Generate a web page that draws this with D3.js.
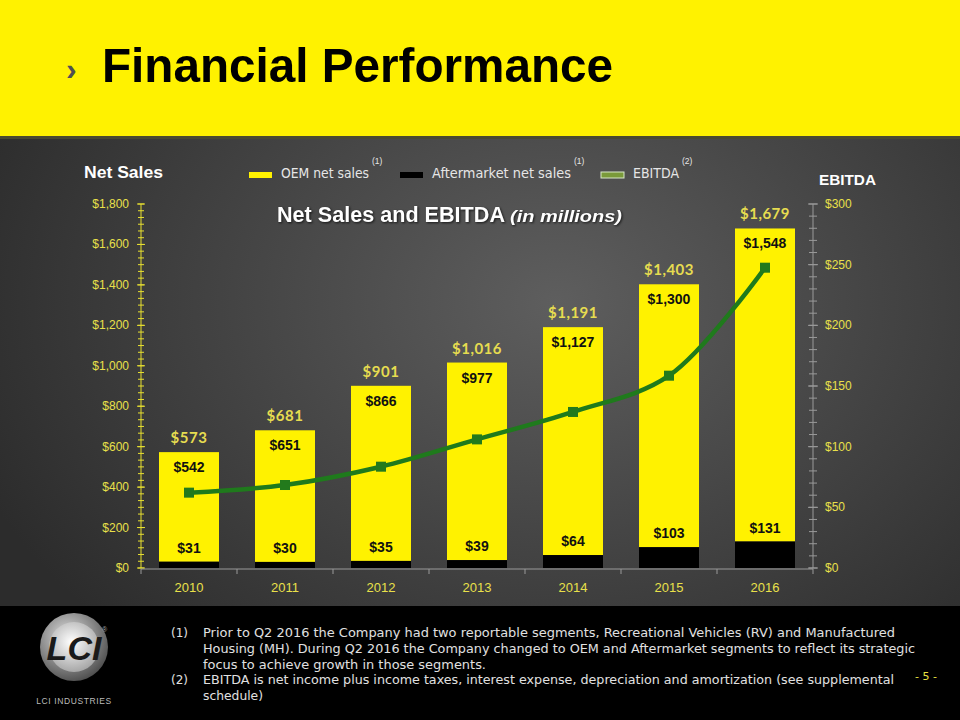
<!DOCTYPE html>
<html>
<head>
<meta charset="utf-8">
<script src="https://cdn.jsdelivr.net/npm/d3@7"></script>
<style>
html,body{margin:0;padding:0;background:#000;}
svg{display:block;}
</style>
</head>
<body>
<svg id="c" width="960" height="720"></svg>
<script>
// ---- data ----
const years = ["2010","2011","2012","2013","2014","2015","2016"];
const oemSales = [542, 651, 866, 977, 1127, 1300, 1548];
const aftermarketSales = [31, 30, 35, 39, 64, 103, 131];
const totalSales = [573, 681, 901, 1016, 1191, 1403, 1679];
const ebitda = [62.1, 68.4, 83.5, 106.0, 128.6, 158.5, 247.5];
const leftTicks = [0, 200, 400, 600, 800, 1000, 1200, 1400, 1600, 1800];
const rightTicks = [0, 50, 100, 150, 200, 250, 300];
const footnoteMarks = ["(1)", "", "", "(2)", ""];
const footnoteLines = [
  "Prior to Q2 2016 the Company had two reportable segments, Recreational Vehicles  (RV) and Manufactured",
  "Housing (MH).  During Q2 2016 the Company changed to OEM and Aftermarket segments to reflect its strategic",
  "focus to achieve growth in those segments.",
  "EBITDA  is net income plus income taxes, interest expense,  depreciation and amortization (see supplemental",
  "schedule)"
];
const footnoteWidths = [692, 712, 283, 691, 60];

const svg = d3.select("#c");
const defs = svg.append("defs");

// background gradient
const bg = defs.append("radialGradient").attr("id","bg")
  .attr("cx","58%").attr("cy","42%").attr("r","65%");
bg.append("stop").attr("offset","0%").attr("stop-color","#5e5e5e");
bg.append("stop").attr("offset","100%").attr("stop-color","#2c2c2c");

svg.append("rect").attr("width",960).attr("height",720).attr("fill","url(#bg)");

// header
svg.append("rect").attr("x",0).attr("y",0).attr("width",960).attr("height",137).attr("fill","#fff200");
svg.append("rect").attr("x",0).attr("y",136).attr("width",960).attr("height",3).attr("fill","#4a4a30");
svg.append("text").attr("x",66).attr("y",80).attr("font-family","Liberation Sans, Arial").attr("font-weight","bold")
  .attr("font-size",32).attr("fill","#505050").text("›");
svg.append("text").attr("x",102).attr("y",82).attr("font-family","Liberation Sans, Arial").attr("font-weight","bold")
  .attr("font-size",49).attr("fill","#000").attr("textLength",511).attr("lengthAdjust","spacingAndGlyphs")
  .text("Financial Performance");

// footer
svg.append("rect").attr("x",0).attr("y",606).attr("width",960).attr("height",114).attr("fill","#000");

// scales
const x = d3.scaleBand().domain(years).range([141,813]).paddingInner(0.375).paddingOuter(0.1875);
const yL = d3.scaleLinear().domain([0,1800]).range([568,204]);
const yR = d3.scaleLinear().domain([0,300]).range([568,204]);

const yellowTxt = "#e9e04a";

// left axis
const gL = svg.append("g").attr("transform","translate(141,0)");
gL.append("line").attr("y1",yL(0)).attr("y2",yL(1800)).attr("stroke","#e8e030").attr("stroke-width",1);
const minorL = d3.range(0, 1800.01, 200/6);
gL.selectAll("line.mn").data(minorL).join("line").attr("class","mn")
  .attr("x1",-3).attr("x2",3).attr("y1",d=>yL(d)).attr("y2",d=>yL(d)).attr("stroke","#e8e030");
gL.selectAll("line.mj").data(leftTicks).join("line").attr("class","mj")
  .attr("x1",-4).attr("x2",4).attr("y1",d=>yL(d)).attr("y2",d=>yL(d)).attr("stroke","#e8e030");
gL.selectAll("text").data(leftTicks).join("text")
  .attr("x",-12).attr("y",d=>yL(d)+4).attr("text-anchor","end")
  .attr("font-family","Liberation Sans, Arial").attr("font-size",12).attr("fill",yellowTxt)
  .text(d=>"$"+d3.format(",")(d));

// right axis
const gR = svg.append("g").attr("transform","translate(813,0)");
gR.append("line").attr("y1",yR(0)).attr("y2",yR(300)).attr("stroke","#9a9a9a");
gR.selectAll("line.mn").data(d3.range(0,300.01,10)).join("line").attr("class","mn")
  .attr("x1",-4).attr("x2",4).attr("y1",d=>yR(d)).attr("y2",d=>yR(d)).attr("stroke","#9a9a9a");
gR.selectAll("line.mj").data(rightTicks).join("line").attr("class","mj")
  .attr("x1",-5).attr("x2",5).attr("y1",d=>yR(d)).attr("y2",d=>yR(d)).attr("stroke","#9a9a9a");
gR.selectAll("text").data(rightTicks).join("text")
  .attr("x",12).attr("y",d=>yR(d)+4).attr("text-anchor","start")
  .attr("font-family","Liberation Sans, Arial").attr("font-size",12).attr("fill",yellowTxt)
  .text(d=>"$"+d);

// bars
const gB = svg.append("g");
years.forEach((yr,i)=>{
  gB.append("rect").attr("x",x(yr)).attr("width",x.bandwidth())
    .attr("y",yL(aftermarketSales[i]+oemSales[i])).attr("height",yL(aftermarketSales[i])-yL(aftermarketSales[i]+oemSales[i]))
    .attr("fill","#fff200");
  gB.append("rect").attr("x",x(yr)).attr("width",x.bandwidth())
    .attr("y",yL(aftermarketSales[i])).attr("height",yL(0)-yL(aftermarketSales[i]))
    .attr("fill","#000");
});

// x axis
const gX = svg.append("g");
gX.append("line").attr("x1",141).attr("x2",813).attr("y1",569).attr("y2",569).attr("stroke","#9a9a9a");
gX.selectAll("line.t").data(d3.range(0,8)).join("line").attr("class","t")
  .attr("x1",d=>141+d*x.step()).attr("x2",d=>141+d*x.step()).attr("y1",569).attr("y2",574).attr("stroke","#9a9a9a");
gX.selectAll("text").data(years).join("text")
  .attr("x",d=>x(d)+x.bandwidth()/2).attr("y",592).attr("text-anchor","middle")
  .attr("font-family","Liberation Sans, Arial").attr("font-size",13).attr("fill",yellowTxt).text(d=>d);

// bar labels
const gLab = svg.append("g").attr("font-family","Liberation Sans, Arial").attr("font-weight","bold").attr("text-anchor","middle");
years.forEach((yr,i)=>{
  const cx = x(yr)+x.bandwidth()/2;
  gLab.append("text").attr("x",cx).attr("y",yL(totalSales[i])-9)
    .attr("font-family","Lato, Open Sans, sans-serif").attr("font-size",15).attr("fill","#e6dc50")
    .attr("letter-spacing",0.5).text("$"+d3.format(",")(totalSales[i]));
  gLab.append("text").attr("x",cx).attr("y",yL(totalSales[i])+20)
    .attr("font-size",14).attr("fill","#111").text("$"+d3.format(",")(oemSales[i]));
  gLab.append("text").attr("x",cx).attr("y",yL(aftermarketSales[i])-9)
    .attr("font-size",14).attr("fill","#111").text("$"+d3.format(",")(aftermarketSales[i]));
});

// EBITDA line
const pts = years.map((yr,i)=>[x(yr)+x.bandwidth()/2, yR(ebitda[i])]);
svg.append("path").attr("d", d3.line().curve(d3.curveCatmullRom.alpha(0.5))(pts))
  .attr("fill","none").attr("stroke","#1f7a1c").attr("stroke-width",4.5);
svg.selectAll("rect.mk").data(pts).join("rect").attr("class","mk")
  .attr("x",d=>d[0]-5).attr("y",d=>d[1]-5).attr("width",10).attr("height",10).attr("fill","#237a1c");

// titles
svg.append("text").attr("x",84).attr("y",178).attr("font-family","Liberation Sans, Arial").attr("font-weight","bold")
  .attr("font-size",16).attr("fill","#fff").attr("textLength",79).attr("lengthAdjust","spacingAndGlyphs").text("Net Sales");
svg.append("text").attr("x",819).attr("y",185).attr("font-family","Liberation Sans, Arial").attr("font-weight","bold")
  .attr("font-size",15).attr("fill","#fff").attr("textLength",57).attr("lengthAdjust","spacingAndGlyphs").text("EBITDA");
const ct = svg.append("text").attr("x",277).attr("y",222)
  .attr("font-family","Liberation Sans, Arial").attr("font-weight","bold").attr("fill","#fff")
  .style("filter","drop-shadow(1px 1px 1px rgba(0,0,0,0.7))");
ct.append("tspan").attr("font-size",21.5).attr("textLength",228).attr("lengthAdjust","spacingAndGlyphs").text("Net Sales and EBITDA");
ct.append("tspan").attr("x",510).attr("font-size",16).attr("font-style","italic").attr("textLength",112).attr("lengthAdjust","spacingAndGlyphs").text("(in millions)");

// legend
const legLabels = ["OEM net sales", "Aftermarket net sales", "EBITDA"];
const legSups = ["(1)", "(1)", "(2)"];
const legFill = ["#fff200", "#000", "#7a9a3a"];
const legStroke = ["none", "none", "#d8e8c8"];
const legX = [249, 400, 601];
const legW = [88, 139, 46];
const gLeg = svg.append("g");
legLabels.forEach((lab,i)=>{
  gLeg.append("rect").attr("x",legX[i]).attr("y",172).attr("width",23).attr("height",6)
    .attr("fill",legFill[i]).attr("stroke",legStroke[i]).attr("stroke-width",legStroke[i]==="none"?0:1);
  gLeg.append("text").attr("x",legX[i]+32).attr("y",178).attr("font-family","DejaVu Sans, sans-serif")
    .attr("font-size",14).attr("fill","#e6e6e6").attr("textLength",legW[i]).attr("lengthAdjust","spacingAndGlyphs").text(lab);
  gLeg.append("text").attr("x",legX[i]+32+legW[i]+3).attr("y",164).attr("font-family","Liberation Sans, Arial")
    .attr("font-size",8.5).attr("fill","#e6e6e6").text(legSups[i]);
});

// logo
const lg1 = defs.append("radialGradient").attr("id","lg1").attr("cx","40%").attr("cy","35%").attr("r","70%");
lg1.append("stop").attr("offset","0%").attr("stop-color","#e0e0e0");
lg1.append("stop").attr("offset","100%").attr("stop-color","#4a4a4a");
const lg2 = defs.append("radialGradient").attr("id","lg2").attr("cx","45%").attr("cy","40%").attr("r","65%");
lg2.append("stop").attr("offset","0%").attr("stop-color","#ffffff");
lg2.append("stop").attr("offset","100%").attr("stop-color","#a0a0a0");
svg.append("circle").attr("cx",74).attr("cy",647).attr("r",34).attr("fill","url(#lg1)");
svg.append("circle").attr("cx",74).attr("cy",647).attr("r",25).attr("fill","url(#lg2)");
svg.append("text").attr("x",74).attr("y",660).attr("text-anchor","middle").attr("font-family","Liberation Sans, Arial")
  .attr("font-weight","bold").attr("font-style","italic").attr("font-size",34).attr("fill","#1a1a1a").text("LCI");
svg.append("text").attr("x",102).attr("y",632).attr("font-family","Liberation Sans, Arial").attr("font-size",7).attr("fill","#aaa").text("®");
svg.append("text").attr("x",74).attr("y",704).attr("text-anchor","middle").attr("font-family","Liberation Sans, Arial")
  .attr("font-size",8.5).attr("fill","#bbb").attr("letter-spacing",0.6).text("LCI INDUSTRIES");

// footnotes
const gF = svg.append("g").attr("font-family","DejaVu Sans, sans-serif").attr("font-size",12).attr("fill","#e0e0e0");
footnoteLines.forEach((line,i)=>{
  const yy = 637 + i*15.8;
  if (footnoteMarks[i]) gF.append("text").attr("x",171).attr("y",yy).text(footnoteMarks[i]);
  gF.append("text").attr("x",203).attr("y",yy).attr("textLength",footnoteWidths[i]).attr("lengthAdjust","spacingAndGlyphs").text(line);
});
svg.append("text").attr("x",915).attr("y",680).attr("font-family","DejaVu Sans, sans-serif")
  .attr("font-size",11).attr("fill","#e8e040").text("- 5 -");
</script>
</body>
</html>
